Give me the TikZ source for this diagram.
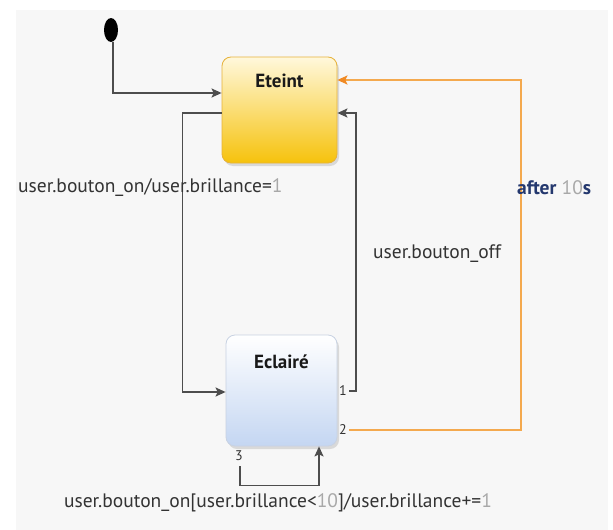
\documentclass[tikz,border=0pt]{standalone}
\usepackage{fontspec}
\setmainfont{PT Sans}
\usetikzlibrary{arrows.meta,shadows,shapes.geometric}
\definecolor{bgc}{HTML}{F7F7F7}
\definecolor{linec}{HTML}{4D4D4D}
\definecolor{orangec}{HTML}{F4A94E}
\definecolor{orangetip}{HTML}{F08A24}
\definecolor{numgray}{HTML}{A8A8A8}
\definecolor{navy}{HTML}{24386E}
\definecolor{ytop}{HTML}{FFF8DC}
\definecolor{ybot}{HTML}{F6C20C}
\definecolor{yborder}{HTML}{E6B23A}
\definecolor{btop}{HTML}{FFFFFF}
\definecolor{bbot}{HTML}{C4D6F2}
\definecolor{bborder}{HTML}{C8D2E2}
\begin{document}
\begin{tikzpicture}[x=1pt,y=-1pt,
  statebox/.style={rectangle, rounded corners=9pt, inner sep=0pt,
    drop shadow={shadow xshift=2pt, shadow yshift=-3pt, opacity=0.25, fill=gray}},
  title/.style={font=\fontsize{19}{21}\selectfont\bfseries, text=black!90, inner sep=0pt},
  lbl/.style={font=\fontsize{19.5}{21}\selectfont, text=black!80, inner sep=0pt},
  port/.style={font=\fontsize{14}{16}\selectfont, text=black!80, inner sep=0pt},
  conn/.style={draw=linec, line width=1.6pt, -{Stealth[length=10pt,width=9pt,inset=2pt]}},
  oconn/.style={draw=orangec, line width=1.8pt, -{Stealth[length=10pt,width=9pt,inset=2pt,color=orangetip]}},
]
\useasboundingbox (0,0) rectangle (613,530);
\fill[white] (0,0) rectangle (613,530);
\fill[bgc] (16,10) rectangle (608,530);

% states
\node[statebox, draw=yborder, line width=0.8pt, top color=ytop, bottom color=ybot,
      minimum width=115pt, minimum height=106pt] (eteint) at (279.5,110) {};
\node[title] (eteintT) at (279.5,81) {Eteint};

\node[statebox, draw=bborder, line width=0.8pt, top color=btop, bottom color=bbot,
      minimum width=111pt, minimum height=111pt] (eclaire) at (281.5,390.5) {};
\node[title] (eclaireT) at (281.5,362) {Eclairé};

% initial state
\node[ellipse, fill=black, minimum width=14pt, minimum height=24pt, inner sep=0pt] (init) at (111,30) {};

% port numbers
\node[port, anchor=west] (p1) at (339,391) {1};
\node[port, anchor=west] (p2) at (339,430) {2};
\node[port] (p3) at (239,456) {3};

% connectors
\draw[conn] ([xshift=2pt]init.south) |- ([yshift=17pt]eteint.west);
\draw[conn] ([yshift=-3pt]eteint.west) -- ++(-39,0) |- ([yshift=-1.5pt]eclaire.west);
\draw[conn] ([xshift=2pt]p1.east) -- ++(7,0) |- ([yshift=-3pt]eteint.east);
\draw[oconn] ([xshift=2pt]p2.east) -- ++(172,0) |- ([yshift=30pt]eteint.east);
\coordinate (loopStart) at ([xshift=-41.5pt,yshift=-20pt]eclaire.south);
\draw[conn] (loopStart) -- ++(0,19) -- ++(79,0) -- ([xshift=37.5pt]eclaire.south);

% labels
\node[lbl, anchor=west] (l1) at (18,188) {user.bouton\_on/user.brillance=\textcolor{numgray}{1}};
\node[lbl, anchor=west] (l2) at (373,254) {user.bouton\_off};
\node[lbl, anchor=west] (l3) at (517,188) {\textcolor{navy}{\bfseries after} \textcolor{numgray}{10}\textcolor{navy}{\bfseries s}};
\node[lbl] (l4) at (278,503) {user.bouton\_on[user.brillance<\textcolor{numgray}{10}]/user.brillance+=\textcolor{numgray}{1}};
\end{tikzpicture}
\end{document}
